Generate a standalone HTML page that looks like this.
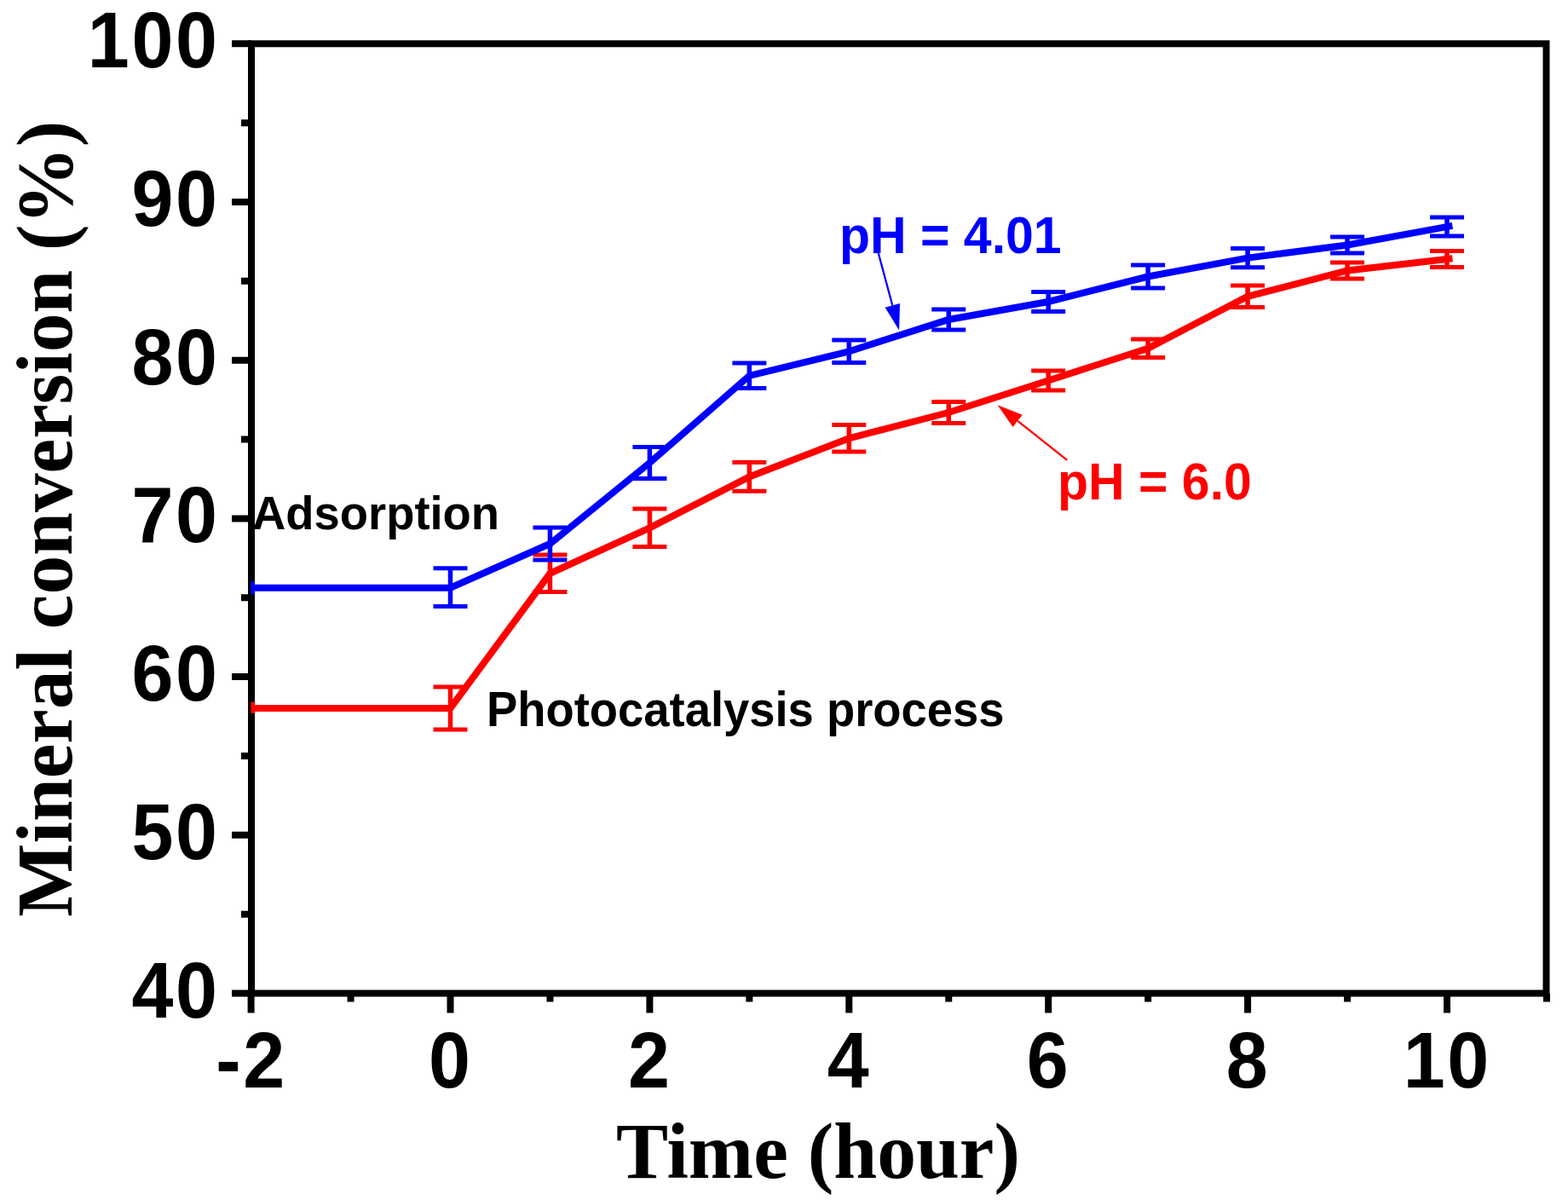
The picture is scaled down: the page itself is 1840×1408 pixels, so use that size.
<!DOCTYPE html>
<html><head><meta charset="utf-8"><title>Mineral conversion vs time</title>
<style>html,body{margin:0;padding:0;background:#fff;}svg{display:block;}</style></head>
<body><svg width="1840" height="1408" viewBox="0 0 1840 1408">
<rect width="1840" height="1408" fill="#fff"/>
<rect x="295.0" y="51.3" width="1519.5" height="1114.2" fill="none" stroke="#000" stroke-width="8"/>
<path d="M272.0,1165.50H295.0M283.0,1072.65H295.0M272.0,979.80H295.0M283.0,886.95H295.0M272.0,794.10H295.0M283.0,701.25H295.0M272.0,608.40H295.0M283.0,515.55H295.0M272.0,422.70H295.0M283.0,329.85H295.0M272.0,237.00H295.0M283.0,144.15H295.0M272.0,51.30H295.0M294.60,1165.5V1188.5M411.55,1165.5V1175.5M528.50,1165.5V1188.5M645.45,1165.5V1175.5M762.40,1165.5V1188.5M879.35,1165.5V1175.5M996.30,1165.5V1188.5M1113.25,1165.5V1175.5M1230.20,1165.5V1188.5M1347.15,1165.5V1175.5M1464.10,1165.5V1188.5M1581.05,1165.5V1175.5M1698.00,1165.5V1188.5M1814.95,1165.5V1175.5" stroke="#000" stroke-width="8" fill="none"/>
<path d="M294.60,831.00 L528.50,831.00 L645.45,672.80 L762.40,619.30 L879.35,559.50 L996.30,514.30 L1113.25,484.00 L1230.20,446.50 L1347.15,408.70 L1464.10,347.80 L1581.05,317.50 L1704.46,303.25" fill="none" stroke="#ff0000" stroke-width="8" stroke-linejoin="miter" stroke-linecap="butt"/>
<path d="M528.50,806.00V856.00M645.45,651.00V694.60M762.40,597.00V641.50M879.35,542.50V576.30M996.30,498.50V530.00M1113.25,471.50V496.50M1230.20,435.00V458.00M1347.15,398.00V419.50M1464.10,335.00V360.50M1581.05,308.00V327.00M1698.00,294.50V313.50" fill="none" stroke="#ff0000" stroke-width="5.5"/>
<path d="M508.50,806.00H548.50M508.50,856.00H548.50M625.45,651.00H665.45M625.45,694.60H665.45M742.40,597.00H782.40M742.40,641.50H782.40M859.35,542.50H899.35M859.35,576.30H899.35M976.30,498.50H1016.30M976.30,530.00H1016.30M1093.25,471.50H1133.25M1093.25,496.50H1133.25M1210.20,435.00H1250.20M1210.20,458.00H1250.20M1327.15,398.00H1367.15M1327.15,419.50H1367.15M1444.10,335.00H1484.10M1444.10,360.50H1484.10M1561.05,308.00H1601.05M1561.05,327.00H1601.05M1678.00,294.50H1718.00M1678.00,313.50H1718.00" fill="none" stroke="#ff0000" stroke-width="5"/>
<path d="M294.60,689.70 L528.50,689.70 L645.45,638.00 L762.40,543.00 L879.35,440.80 L996.30,412.30 L1113.25,375.00 L1230.20,354.00 L1347.15,324.50 L1464.10,302.60 L1581.05,287.50 L1704.39,264.82" fill="none" stroke="#0000ff" stroke-width="8" stroke-linejoin="miter" stroke-linecap="butt"/>
<path d="M528.50,666.70V711.50M645.45,619.00V657.00M762.40,524.50V561.60M879.35,426.00V455.50M996.30,399.00V425.50M1113.25,363.00V387.00M1230.20,342.40V365.50M1347.15,311.00V338.00M1464.10,291.50V313.80M1581.05,278.00V297.00M1698.00,255.00V277.00" fill="none" stroke="#0000ff" stroke-width="5.5"/>
<path d="M508.50,666.70H548.50M508.50,711.50H548.50M625.45,619.00H665.45M625.45,657.00H665.45M742.40,524.50H782.40M742.40,561.60H782.40M859.35,426.00H899.35M859.35,455.50H899.35M976.30,399.00H1016.30M976.30,425.50H1016.30M1093.25,363.00H1133.25M1093.25,387.00H1133.25M1210.20,342.40H1250.20M1210.20,365.50H1250.20M1327.15,311.00H1367.15M1327.15,338.00H1367.15M1444.10,291.50H1484.10M1444.10,313.80H1484.10M1561.05,278.00H1601.05M1561.05,297.00H1601.05M1678.00,255.00H1718.00M1678.00,277.00H1718.00" fill="none" stroke="#0000ff" stroke-width="5"/>
<rect x="294.5" y="823.5" width="4.5" height="13.5" fill="#ff0000"/>
<rect x="294.5" y="682" width="4.5" height="15.5" fill="#0000ff"/>
<text transform="translate(257.70,1193.50) scale(1,1.05)" text-anchor="end" font-size="88" font-family="'Liberation Sans', Arial, sans-serif" font-weight="bold" fill="#000" letter-spacing="2.7">40</text>
<text transform="translate(257.70,1007.80) scale(1,1.05)" text-anchor="end" font-size="88" font-family="'Liberation Sans', Arial, sans-serif" font-weight="bold" fill="#000" letter-spacing="2.7">50</text>
<text transform="translate(257.70,822.10) scale(1,1.05)" text-anchor="end" font-size="88" font-family="'Liberation Sans', Arial, sans-serif" font-weight="bold" fill="#000" letter-spacing="2.7">60</text>
<text transform="translate(257.70,636.40) scale(1,1.05)" text-anchor="end" font-size="88" font-family="'Liberation Sans', Arial, sans-serif" font-weight="bold" fill="#000" letter-spacing="2.7">70</text>
<text transform="translate(257.70,450.70) scale(1,1.05)" text-anchor="end" font-size="88" font-family="'Liberation Sans', Arial, sans-serif" font-weight="bold" fill="#000" letter-spacing="2.7">80</text>
<text transform="translate(257.70,265.00) scale(1,1.05)" text-anchor="end" font-size="88" font-family="'Liberation Sans', Arial, sans-serif" font-weight="bold" fill="#000" letter-spacing="2.7">90</text>
<text transform="translate(257.70,79.30) scale(1,1.05)" text-anchor="end" font-size="88" font-family="'Liberation Sans', Arial, sans-serif" font-weight="bold" fill="#000" letter-spacing="2.7">100</text>
<text transform="translate(294.95,1276.00) scale(1,1.05)" text-anchor="middle" font-size="88" font-family="'Liberation Sans', Arial, sans-serif" font-weight="bold" fill="#000" letter-spacing="2.7">-2</text>
<text transform="translate(528.85,1276.00) scale(1,1.05)" text-anchor="middle" font-size="88" font-family="'Liberation Sans', Arial, sans-serif" font-weight="bold" fill="#000" letter-spacing="2.7">0</text>
<text transform="translate(762.75,1276.00) scale(1,1.05)" text-anchor="middle" font-size="88" font-family="'Liberation Sans', Arial, sans-serif" font-weight="bold" fill="#000" letter-spacing="2.7">2</text>
<text transform="translate(996.65,1276.00) scale(1,1.05)" text-anchor="middle" font-size="88" font-family="'Liberation Sans', Arial, sans-serif" font-weight="bold" fill="#000" letter-spacing="2.7">4</text>
<text transform="translate(1230.55,1276.00) scale(1,1.05)" text-anchor="middle" font-size="88" font-family="'Liberation Sans', Arial, sans-serif" font-weight="bold" fill="#000" letter-spacing="2.7">6</text>
<text transform="translate(1464.45,1276.00) scale(1,1.05)" text-anchor="middle" font-size="88" font-family="'Liberation Sans', Arial, sans-serif" font-weight="bold" fill="#000" letter-spacing="2.7">8</text>
<text transform="translate(1698.35,1276.00) scale(1,1.05)" text-anchor="middle" font-size="88" font-family="'Liberation Sans', Arial, sans-serif" font-weight="bold" fill="#000" letter-spacing="2.7">10</text>
<text transform="translate(960.00,1382.00) scale(1,1.017)" text-anchor="middle" font-size="91.6" font-family="'Liberation Serif', 'Times New Roman', serif" font-weight="bold" fill="#000">Time (hour)</text>
<text transform="translate(83.50,608.70) rotate(-90) scale(1,1.027)" text-anchor="middle" font-size="91.4" font-family="'Liberation Serif', 'Times New Roman', serif" font-weight="bold" fill="#000">Mineral conversion (%)</text>
<text transform="translate(296.00,621.30) scale(1,1.03)" text-anchor="start" font-size="54.4" font-family="'Liberation Sans', Arial, sans-serif" font-weight="bold" fill="#000">Adsorption</text>
<text transform="translate(571.00,852.20) scale(1,1.04)" text-anchor="start" font-size="54.4" font-family="'Liberation Sans', Arial, sans-serif" font-weight="bold" fill="#000">Photocatalysis process</text>
<text transform="translate(985.00,296.50) scale(1,1.05)" text-anchor="start" font-size="59" font-family="'Liberation Sans', Arial, sans-serif" font-weight="bold" fill="#0000ff">pH = 4.01</text>
<text transform="translate(1241.00,586.40) scale(1,1.05)" text-anchor="start" font-size="59" font-family="'Liberation Sans', Arial, sans-serif" font-weight="bold" fill="#ff0000">pH = 6.0</text>
<line x1="1030.7" y1="296.7" x2="1047.31" y2="358.43" stroke="#0000ff" stroke-width="2.3"/><polygon points="1055.1,387.4 1038.62,360.77 1056.00,356.09" fill="#0000ff"/>
<line x1="1252.2" y1="539.8" x2="1194.12" y2="493.82" stroke="#ff0000" stroke-width="2.3"/><polygon points="1170.6,475.2 1199.71,486.76 1188.54,500.88" fill="#ff0000"/>
</svg></body></html>
